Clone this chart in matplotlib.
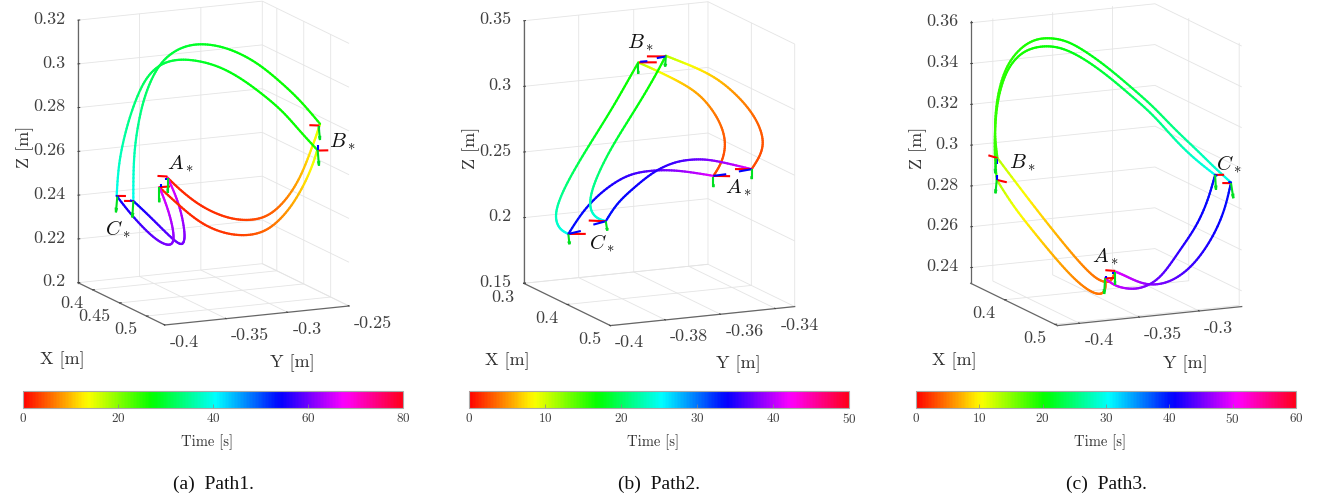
import numpy as np, matplotlib
matplotlib.use('Agg')
import matplotlib.pyplot as plt
from mpl_toolkits.mplot3d import proj3d
from mpl_toolkits.mplot3d.art3d import Line3DCollection
from matplotlib.cm import ScalarMappable
from matplotlib.colors import Normalize

# Values. X, Y, Z in 0.1 mm (Y is negative), time in 0.1 s.
# A repeated position marks a via point (A, B or C), where the robot rests.
P1_U_X=[4423,4487,4571,4655,4739,4823,4907,4975,5042,5101,5151,5177,5194,5194,5093,4992,4891,4790,4689,4588,4503,4428,4369,4318,4285,4259,4251,4251,4251,4318,4386,4453,4495,4508,4512,4495,4461,4423]
P1_U_Y=[3576,3501,3403,3304,3205,3106,3008,2929,2850,2780,2721,2692,2672,2672,2790,2909,3027,3146,3264,3383,3482,3571,3640,3699,3738,3768,3778,3778,3778,3699,3620,3541,3492,3476,3472,3492,3531,3576]
P1_U_Z=[2539,2486,2429,2391,2368,2363,2378,2420,2492,2587,2711,2774,2825,2825,2929,3008,3079,3127,3155,3161,3143,3100,3036,2935,2826,2688,2565,2423,2423,2370,2313,2256,2232,2251,2289,2380,2469,2539]
P1_U_T=[20,22,24,26,30,36,45,56,73,95,127,145,160,264,265,268,273,278,284,291,297,304,312,324,338,357,376,400,544,560,576,593,601,606,613,630,649,664]
P1_L_X=[4382,4453,4537,4621,4722,4823,4907,4975,5050,5118,5160,5180,5180,5093,5008,4907,4806,4705,4604,4500,4419,4360,4301,4243,4200,4175,4167,4167,4234,4318,4386,4436,4456,4453,4433,4402,4382]
P1_L_Y=[3624,3541,3442,3343,3225,3106,3008,2929,2840,2761,2711,2688,2688,2790,2890,3008,3126,3245,3363,3486,3580,3650,3719,3788,3837,3867,3877,3877,3798,3699,3620,3561,3537,3541,3565,3600,3624]
P1_L_Z=[2493,2438,2374,2325,2296,2293,2314,2359,2439,2549,2643,2705,2705,2785,2872,2943,3006,3054,3079,3086,3070,3036,2972,2839,2700,2576,2442,2442,2366,2287,2240,2227,2248,2301,2376,2451,2493]
P1_L_T=[20,22,24,26,30,38,53,66,86,115,141,160,264,265,267,271,277,283,290,298,305,312,321,338,358,377,400,544,560,585,600,609,614,625,640,655,664]
P1_RED_S=[5190,2676,2817,5180,2688,2702,4423,3576,2544,4382,3624,2493,4170,3873,2442,4251,3778,2423]
P1_RED_V=[-50,-59,-1,56,65,4,-50,-59,0,54,63,6,44,51,2,-47,-55,-2]
P1_BLUE_S=[5187,2680,2815,5183,2684,2728,4416,3584,2539,4389,3616,2508,4170,3873,2442,4234,3798,2426]
P1_BLUE_V=[0,0,-21,0,0,-23,0,0,-11,0,0,-15,7,8,-6,12,14,-4]
P1_GREEN_S=[5187,2680,2815,5182,2686,2705,4424,3574,2536,4382,3624,2493,4170,3873,2439,4251,3778,2423]
P1_GREEN_V=[7,8,-64,7,8,-71,0,0,-66,0,0,-69,-7,-8,-72,-5,-6,-75]

P2_U_X=[4490,4542,4569,4553,4500,4417,4323,4218,4113,4019,4019,3946,3862,3758,3653,3559,3507,3497,3528,3580,3580,3674,3800,3946,4072,4197,4323,4490]
P2_U_Y=[3545,3523,3512,3519,3541,3576,3616,3660,3704,3744,3744,3775,3810,3854,3898,3938,3960,3964,3951,3929,3929,3889,3836,3775,3722,3669,3616,3545]
P2_U_Z=[2460,2561,2690,2815,2939,3060,3135,3194,3247,3291,3291,3129,2945,2734,2524,2314,2158,2055,1981,1954,1954,2144,2305,2430,2469,2486,2482,2460]
P2_U_T=[25,26,28,33,40,51,63,77,94,110,165,166,170,179,192,209,224,233,242,250,335,337,344,354,365,377,392,415]
P2_L_X=[4730,4783,4808,4783,4720,4626,4511,4385,4281,4191,4191,4134,4051,3946,3842,3758,3716,3716,3754,3814,3814,3883,3988,4113,4239,4343,4448,4573,4730]
P2_L_Y=[3444,3422,3411,3422,3448,3488,3536,3589,3633,3671,3671,3695,3731,3775,3819,3854,3872,3872,3856,3830,3830,3801,3757,3704,3651,3607,3563,3510,3444]
P2_L_Z=[2528,2628,2732,2857,2980,3100,3206,3274,3317,3354,3354,3218,3034,2824,2613,2404,2249,2147,2086,2067,2067,2209,2331,2467,2547,2575,2585,2563,2528]
P2_L_T=[25,26,28,31,38,49,63,80,95,110,165,166,170,179,192,209,223,233,241,250,335,336,340,348,358,367,378,393,415]
P2_RED_S=[4023,3742,3292,4191,3671,3349,4490,3545,2460,4730,3444,2528,3580,3929,1954,3814,3830,2067]
P2_RED_V=[111,47,8,-119,-50,-8,105,44,5,-105,-44,-7,109,46,8,-107,-45,-2]
P2_BLUE_S=[4030,3739,3297,4191,3671,3349,4490,3545,2460,4730,3444,2528,3580,3929,1954,3814,3830,2067]
P2_BLUE_V=[46,19,8,-56,-24,-17,79,34,18,-79,-34,-23,77,33,28,-77,-33,-31]
P2_GREEN_S=[4019,3744,3286,4191,3671,3349,4490,3545,2455,4730,3444,2528,3580,3929,1952,3814,3830,2067]
P2_GREEN_V=[0,0,-81,-4,-2,-77,0,0,-81,0,0,-76,6,3,-76,10,4,-70]

P3_U_X=[4367,4349,4313,4259,4178,4088,3980,3854,3732,3732,3719,3719,3737,3782,3854,3926,3998,4097,4196,4322,4448,4573,4681,4807,4906,4992,4992,4960,4897,4807,4717,4627,4537,4466,4412,4367]
P3_U_Y=[3416,3436,3476,3537,3628,3730,3852,3993,4131,4131,4146,4146,4125,4075,3993,3912,3831,3720,3608,3466,3324,3182,3061,2919,2807,2710,2710,2746,2817,2919,3020,3122,3223,3304,3365,3416]
P3_U_Z=[2459,2409,2402,2420,2490,2583,2700,2841,2982,2982,3071,3185,3317,3442,3528,3572,3587,3581,3537,3462,3371,3279,3179,3079,2994,2928,2928,2793,2658,2531,2453,2410,2402,2423,2445,2459]
P3_U_T=[42,43,45,47,55,66,82,106,132,180,180,181,184,187,191,194,197,202,208,217,229,242,256,272,287,300,402,404,412,425,438,451,465,478,489,498]
P3_L_X=[4313,4318,4300,4259,4205,4133,4034,3926,3818,3728,3728,3716,3719,3732,3773,3836,3908,3998,4088,4196,4322,4448,4573,4681,4789,4906,4906,4870,4807,4717,4627,4555,4484,4412,4358,4313]
P3_L_Y=[3476,3470,3491,3537,3598,3679,3791,3912,4034,4135,4135,4150,4146,4131,4085,4014,3933,3831,3730,3608,3466,3324,3182,3061,2939,2807,2807,2848,2919,3020,3122,3203,3284,3365,3426,3476]
P3_L_Z=[2423,2375,2344,2344,2369,2422,2518,2632,2749,2875,2875,3005,3136,3268,3401,3486,3530,3548,3540,3496,3421,3330,3238,3129,3037,2961,2961,2837,2703,2584,2456,2403,2378,2379,2393,2423]
P3_L_T=[42,43,45,47,50,57,70,88,109,132,180,181,182,185,190,194,198,202,207,214,227,237,251,267,283,300,402,404,411,423,441,453,464,477,487,498]
P3_RED_S=[3732,4131,2982,3728,4135,2875,4367,3416,2462,4313,3476,2423,4906,2807,2961,4992,2710,2925]
P3_RED_V=[-49,-55,11,54,61,-9,-52,-59,1,49,55,4,49,55,3,-47,-53,-2]
P3_BLUE_S=[3732,4131,2977,3728,4135,2900,4354,3430,2458,4318,3470,2435,4906,2807,2961,4978,2726,2931]
P3_BLUE_V=[0,0,-23,0,0,-25,0,0,-10,0,0,-10,13,14,-4,14,16,-3]
P3_GREEN_S=[3725,4139,2981,3728,4135,2875,4367,3416,2459,4313,3476,2423,4906,2807,2961,4992,2710,2925]
P3_GREEN_V=[-5,-6,-74,-7,-8,-66,0,0,-65,-5,-6,-77,5,6,-73,13,14,-73]

X_LIM=[(.373,.534),(.3,.5),(.333,.505)]
Y_LIM=[(-.4,-.25),(-.4,-.333),(-.4185,-.2645)]
Z_LIM=[(.2,.32),(.15,.35),(.2323,.361)]
X_TICKS=[[.4,.45,.5],[.3,.4,.5],[.4,.5]]
Y_TICKS=[[-.4,-.35,-.3,-.25],[-.4,-.38,-.36,-.34],[-.4,-.35,-.3]]
Z_TICKS=[[.2,.22,.24,.26,.28,.3,.32],[.15,.2,.25,.3,.35],[.24,.26,.28,.3,.32,.34,.36]]
T_MAX=[80,50,60]
T_STEP=[20,10,10]
CAPTIONS=['(a)  Path1.','(b)  Path2.','(c)  Path3.']
POINT_LABELS=[[('A',180,164),('B',342,142),('C',118,229)],
              [('A',738,188),('B',640,43),('C',602,243)],
              [('A',1105,257),('B',1022,163),('C',1229,164)]]
CURVES=[[(P1_U_X,P1_U_Y,P1_U_Z,P1_U_T),(P1_L_X,P1_L_Y,P1_L_Z,P1_L_T)],
        [(P2_U_X,P2_U_Y,P2_U_Z,P2_U_T),(P2_L_X,P2_L_Y,P2_L_Z,P2_L_T)],
        [(P3_U_X,P3_U_Y,P3_U_Z,P3_U_T),(P3_L_X,P3_L_Y,P3_L_Z,P3_L_T)]]
FRAMES=[[(P1_RED_S,P1_RED_V),(P1_BLUE_S,P1_BLUE_V),(P1_GREEN_S,P1_GREEN_V)],
        [(P2_RED_S,P2_RED_V),(P2_BLUE_S,P2_BLUE_V),(P2_GREEN_S,P2_GREEN_V)],
        [(P3_RED_S,P3_RED_V),(P3_BLUE_S,P3_BLUE_V),(P3_GREEN_S,P3_GREEN_V)]]

W,H=1323,500
BOX_LEFT=[(78,282.7),(523.7,283.3),(970.7,283.3)]   # pixel of the (xmin,ymin,zmin) corner
SPAN=813/3

plt.rcParams.update({'font.family':'cmr10','mathtext.fontset':'cm','axes.unicode_minus':False,
 'axes.formatter.use_mathtext':True,'grid.color':'#e4e4e4','grid.linewidth':0.6})

def smooth(pts,n=8):
    """Cubic B-spline with the read points as control polygon, for a smooth rendering."""
    P=np.vstack([2*pts[0]-pts[1],pts,2*pts[-1]-pts[-2]])
    u=np.linspace(0,1,n,endpoint=False)[:,None]
    out=[]
    for i in range(1,len(P)-2):
        out.append(((1-u)**3*P[i-1]+(3*u**3-6*u**2+4)*P[i]+(-3*u**3+3*u**2+3*u+1)*P[i+1]+u**3*P[i+2])/6)
    out.append(pts[-1:])
    return np.vstack(out)

fig=plt.figure(figsize=(13.23,5),dpi=100)
for i in range(3):
    xl,yl,zl=X_LIM[i],Y_LIM[i],Z_LIM[i]
    ax=fig.add_axes([.1,.1,600/W,600/H],projection='3d',proj_type='ortho')
    ax.view_init(elev=12.96,azim=-24.7)
    ax.set_box_aspect((207.6,202.9,269.5))
    ax.set_xlim(xl);ax.set_ylim(yl);ax.set_zlim(zl)
    ax.patch.set_alpha(0)
    ax.computed_zorder=False
    for a in (ax.xaxis,ax.yaxis,ax.zaxis):
        a.set_pane_color((1,1,1,0));a.pane.set_edgecolor('#969696');a.pane.set_linewidth(.8)
        a.line.set_color('#666666');a.line.set_linewidth(.9)
        a._axinfo['tick']['inward_factor']=0;a._axinfo['tick']['outward_factor']=.12
        a._axinfo['tick']['linewidth']={True:.7,False:.5}
        a.set_rotate_label(False)
    ax.set_xticks(X_TICKS[i]);ax.set_yticks(Y_TICKS[i]);ax.set_zticks(Z_TICKS[i])
    ax.set_xticklabels([f'{v:g}' for v in X_TICKS[i]],ha='right',va='center')
    ax.set_yticklabels([f'{v:g}' for v in Y_TICKS[i]],ha='left',va='center')
    ax.set_zticklabels([f'{v:g}' for v in Z_TICKS[i]],ha='right',va='center')
    ax.tick_params(labelsize=13,colors='#404040')
    ax.tick_params(axis='x',pad=-1);ax.tick_params(axis='y',pad=0);ax.tick_params(axis='z',pad=-1.5)
    ax.zaxis.set_ticks_position('lower');ax.zaxis.set_label_position('lower')
    ax.xaxis._axinfo['label']['ha']='right';ax.yaxis._axinfo['label']['ha']='left'
    ax.set_xlabel('X [m]',fontsize=13,color='#333',labelpad=8)
    ax.set_ylabel('Y [m]',fontsize=13,color='#333',labelpad=1.5)
    ax.set_zlabel('Z [m]',fontsize=13,color='#333',labelpad=7,rotation=90)
    for cx,cy,cz,ct in CURVES[i]:
        A=np.c_[np.array(cx)*1e-4,-np.array(cy)*1e-4,np.array(cz)*1e-4,np.array(ct)*.1]
        brk=[k+1 for k in range(len(A)-1) if np.all(A[k,:3]==A[k+1,:3])]
        for part in np.split(A,brk):
            S=smooth(part)
            lc=Line3DCollection(np.stack([S[:-1,:3],S[1:,:3]],axis=1),cmap='hsv',norm=Normalize(0,T_MAX[i]),linewidth=1.6,capstyle='round',zorder=2)
            lc.set_array((S[:-1,3]+S[1:,3])/2);ax.add_collection3d(lc)
    for (s,v),col,alr in zip(FRAMES[i],('#ff0000','#0000ff','#00e020'),(0,0,.3)):
        s=np.array(s).reshape(-1,3)*1e-4*np.array([1,-1,1]);v=np.array(v).reshape(-1,3)*1e-4
        ax.quiver(s[:,0],s[:,1],s[:,2],v[:,0],v[:,1],v[:,2],color=col,arrow_length_ratio=alr,linewidth=1.5,zorder=3)
    def px(x,y,z):
        a,b,_=proj3d.proj_transform(x,y,z,ax.get_proj());return ax.transData.transform((a,b))
    fig.canvas.draw()
    q=px(xl[0],yl[0],zl[0]);r=px(xl[1],yl[1],zl[0])
    w=600*SPAN/(r[0]-q[0])
    ax.set_position([.1,.1,w/W,w/H]);fig.canvas.draw()
    q=px(xl[0],yl[0],zl[0])
    ax.set_position([.1+(BOX_LEFT[i][0]-q[0])/W,.1+(H-BOX_LEFT[i][1]-q[1])/H,w/W,w/H])
    for name,lx,ly in POINT_LABELS[i]:
        fig.text(lx/W,1-ly/H,f'${name}_*$',fontsize=15,ha='center',va='center',color='#111')
    lft=[23,469,916][i]
    cax=fig.add_axes([lft/W,1-408/H,380/W,17/H])
    cb=fig.colorbar(ScalarMappable(Normalize(0,T_MAX[i]),'hsv'),cax=cax,orientation='horizontal')
    cb.set_ticks(np.arange(0,T_MAX[i]+1,T_STEP[i]))
    cax.tick_params(direction='in',length=3,width=.5,color='#888',labelsize=9.5,labelcolor='#404040',pad=3)
    cb.outline.set_edgecolor('#aaa');cb.outline.set_linewidth(.8)
    cb.set_label('Time [s]',fontsize=10.5,color='#333',va='center')
    cax.xaxis.set_label_coords(.484,-2.03)
    fig.text((lft+190)/W,1-484.5/H,CAPTIONS[i],family='Liberation Serif',fontsize=14,ha='center',va='center',color='#111')
fig.savefig('out.png',dpi=100)
